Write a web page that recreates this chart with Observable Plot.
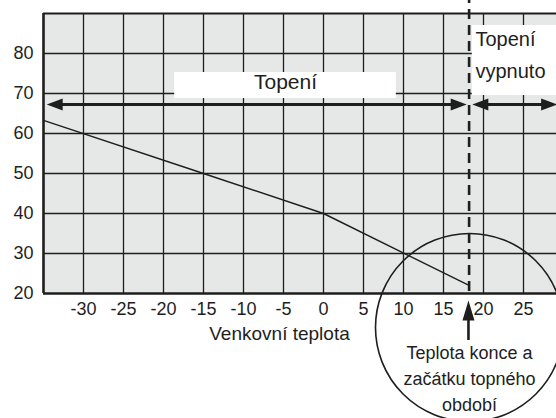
<!DOCTYPE html>
<html>
<head>
<meta charset="utf-8">
<script src="https://cdn.jsdelivr.net/npm/d3@7"></script>
<script src="https://cdn.jsdelivr.net/npm/@observablehq/plot@0.6"></script>
<style>
  html, body { margin: 0; padding: 0; background: #fff; }
  #chart svg { display: block; }
</style>
</head>
<body>
<div id="chart"></div>
<script>
// ---- data ----
const xTicks = [-30, -25, -20, -15, -10, -5, 0, 5, 10, 15, 20, 25];
const yTicks = [20, 30, 40, 50, 60, 70, 80];
const yGrid = [30, 40, 50, 60, 70, 80];
const curveTemp = [-35, -15, 0, 18];
const curveWater = [63.3, 50, 40, 22.2];
const cutoffTemp = 18.2;
const heatingLabel = "Topení";
const offLabel = "Topení\nvypnuto";
const noteLabel = "Teplota konce a\nzačátku topného\nobdobí";
const xAxisLabel = "Venkovní teplota";

// annotation anchors (data space)
const arrowY = 67.25;
const heatArrow = {x1: -34.6, x2: 17.9};
const offArrow = {x1: 18.6, x2: 29.2};
const heatBox = {x1: -18.6, x2: 9.1, y1: 68.75, y2: 75.25};
const offBox = {x1: 18.6, x2: 29.3, y1: 69.5, y2: 87};
const circle = {x: 18.25, y: 11.5};
const upArrow = {x: 18.12, y1: 8.25, y2: 18.25};

const curve = curveTemp.map((t, i) => ({t, w: curveWater[i]}));
const font = "'Liberation Sans', Arial, Helvetica, sans-serif";

const headH = {draw(ctx) { ctx.moveTo(0, 0); ctx.lineTo(-16, -6); ctx.lineTo(-16, 6); ctx.closePath(); }};
const headV = {draw(ctx) { ctx.moveTo(0, 0); ctx.lineTo(-20, -6); ctx.lineTo(-20, 6); ctx.closePath(); }};

const hHeads = [
  {x: heatArrow.x1, y: arrowY, a: 180},
  {x: heatArrow.x2, y: arrowY, a: 0},
  {x: offArrow.x1, y: arrowY, a: 180},
  {x: offArrow.x2, y: arrowY, a: 0}
];

const chart = Plot.plot({
  width: 556,
  height: 418,
  marginLeft: 43,
  marginRight: 0,
  marginTop: 13,
  marginBottom: 125,
  x: {domain: [-35, 29.125]},
  y: {domain: [20, 90]},
  style: {fontFamily: font, background: "#fff", overflow: "visible"},
  marks: [
    Plot.frame({fill: "#e6e7e7", stroke: null}),
    Plot.ruleX(xTicks, {y1: 20, y2: 90, stroke: "#1e1e1e", strokeWidth: 1.3}),
    Plot.ruleY(yGrid, {x1: -35, x2: 29.125, stroke: "#1e1e1e", strokeWidth: 1.3}),
    Plot.ruleY([90], {x1: -35, x2: 29.125, stroke: "#1e1e1e", strokeWidth: 2}),
    Plot.ruleY([20], {x1: -35, x2: 29.125, stroke: "#1e1e1e", strokeWidth: 2.6}),
    Plot.ruleX([-35], {y1: 20, y2: 90, stroke: "#1e1e1e", strokeWidth: 2.6}),
    Plot.axisX(xTicks, {tickSize: 0, tickPadding: 9, fontSize: 18, fill: "#1e1e1e", label: null, tickFormat: d => String(d)}),
    Plot.axisY(yTicks, {tickSize: 0, tickPadding: 10, fontSize: 18, fill: "#1e1e1e", label: null, tickFormat: d => String(d)}),
    Plot.line(curve, {x: "t", y: "w", stroke: "#1e1e1e", strokeWidth: 1.4}),
    Plot.rect([heatBox, offBox], {x1: "x1", x2: "x2", y1: "y1", y2: "y2", fill: "white"}),
    Plot.ruleY([arrowY], {x1: heatArrow.x1 + 1, x2: heatArrow.x2 - 1, stroke: "#1e1e1e", strokeWidth: 3}),
    Plot.ruleY([arrowY], {x1: offArrow.x1 + 1, x2: offArrow.x2 - 1, stroke: "#1e1e1e", strokeWidth: 3}),
    Plot.dot(hHeads, {x: "x", y: "y", rotate: "a", symbol: headH, fill: "#1e1e1e", stroke: null}),
    Plot.ruleX([cutoffTemp], {y1: 20.5, y2: 93.5, stroke: "#1e1e1e", strokeWidth: 2.6, strokeDasharray: "10,6"}),
    Plot.text([heatingLabel], {x: -4.75, y: 71.25, text: d => d, fontSize: 21, textAnchor: "middle", lineAnchor: "bottom", fill: "#1e1e1e"}),
    Plot.text([offLabel], {x: 19.0, y: 74, text: d => d, fontSize: 20, textAnchor: "start", lineAnchor: "bottom", lineHeight: 1.6, fill: "#1e1e1e"}),
    Plot.dot([circle], {x: "x", y: "y", r: 94, fill: "none", stroke: "#1e1e1e", strokeWidth: 1.6}),
    Plot.ruleX([upArrow.x], {y1: upArrow.y1, y2: upArrow.y2 - 4, stroke: "#1e1e1e", strokeWidth: 2.6}),
    Plot.dot([upArrow], {x: "x", y: "y2", rotate: -90, symbol: headV, fill: "#1e1e1e", stroke: null}),
    Plot.text([noteLabel], {x: 18.25, y: -9.25, text: d => d, fontSize: 18, textAnchor: "middle", lineAnchor: "bottom", lineHeight: 1.444, fill: "#1e1e1e"}),
    Plot.text([xAxisLabel], {x: -5.5, y: 8.5, text: d => d, fontSize: 19, textAnchor: "middle", lineAnchor: "bottom", fill: "#1e1e1e"})
  ]
});
document.getElementById("chart").appendChild(chart);
</script>
</body>
</html>
